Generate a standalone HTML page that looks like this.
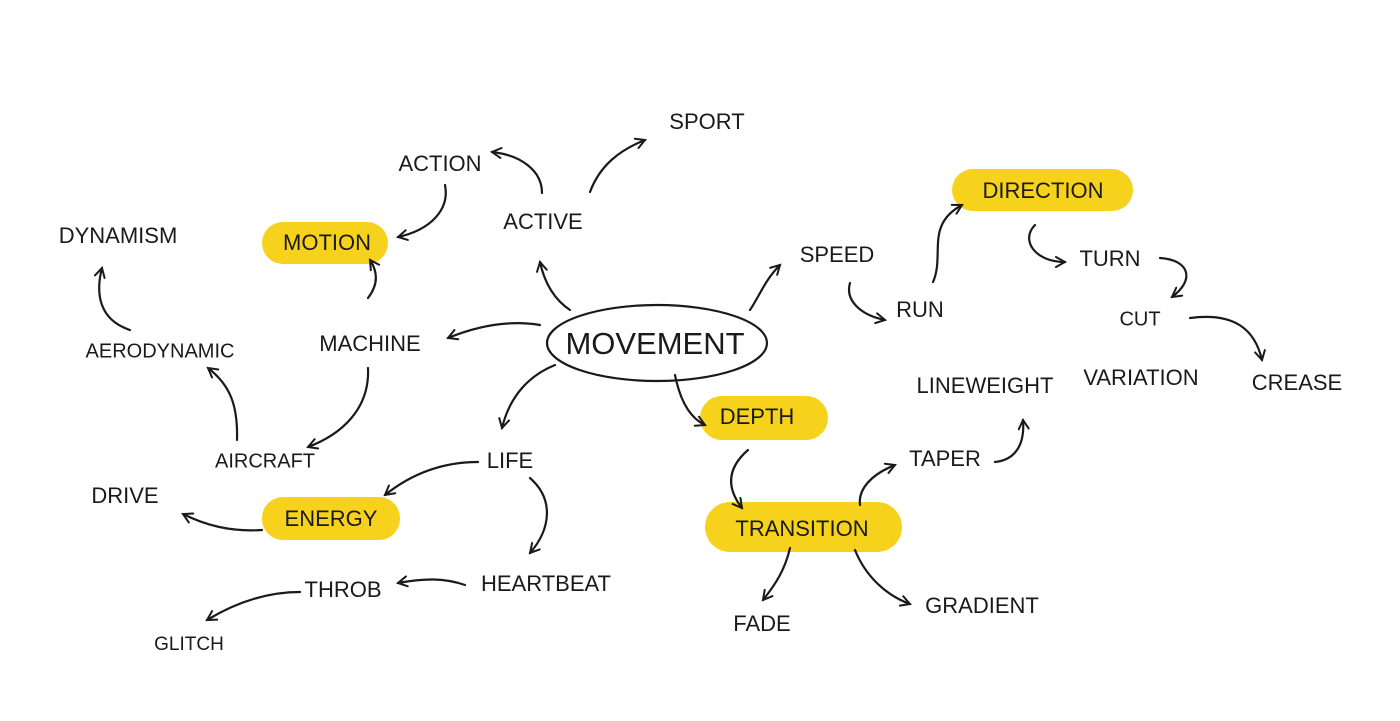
<!DOCTYPE html>
<html><head><meta charset="utf-8"><style>
html,body{margin:0;padding:0;background:#fff;}
svg{display:block}
text{font-family:"Liberation Sans Narrow","Liberation Sans",sans-serif;fill:#1a1a1a;font-size:22px;text-anchor:middle;dominant-baseline:middle;letter-spacing:0px}
.c{fill:none;stroke:#1a1a1a;stroke-width:2.2;stroke-linecap:round}
.h{fill:#f6d21c}
</style></head><body>
<svg width="1400" height="721" viewBox="0 0 1400 721" xmlns="http://www.w3.org/2000/svg">
<defs>
<marker id="a" viewBox="0 0 12 12" refX="10" refY="6" markerWidth="12" markerHeight="12" markerUnits="userSpaceOnUse" orient="auto">
<path d="M1,1 L10,6 L1,11" fill="none" stroke="#1a1a1a" stroke-width="2" stroke-linecap="round"/></marker>
</defs>
<rect class="h" x="262" y="222" width="126" height="42" rx="21"/>
<rect class="h" x="952" y="169" width="181" height="42" rx="21"/>
<rect class="h" x="700" y="396" width="128" height="44" rx="22"/>
<rect class="h" x="262" y="497" width="138" height="43" rx="21"/>
<rect class="h" x="705" y="502" width="197" height="50" rx="25"/>

<ellipse cx="657" cy="343" rx="110" ry="38" fill="none" stroke="#1a1a1a" stroke-width="2.2"/>
<text x="655" y="346" style="font-size:31px">MOVEMENT</text>

<text x="707" y="123">SPORT</text>
<text x="440" y="165">ACTION</text>
<text x="543" y="223">ACTIVE</text>
<text x="118" y="237">DYNAMISM</text>
<text x="327" y="244">MOTION</text>
<text x="1043" y="192">DIRECTION</text>
<text x="837" y="256">SPEED</text>
<text x="1110" y="260">TURN</text>
<text x="370" y="345">MACHINE</text>
<text x="160" y="352" style="font-size:20px">AERODYNAMIC</text>
<text x="920" y="311">RUN</text>
<text x="1140" y="320" style="font-size:20px">CUT</text>
<text x="985" y="387">LINEWEIGHT</text>
<text x="1141" y="379">VARIATION</text>
<text x="1297" y="384">CREASE</text>
<text x="757" y="418">DEPTH</text>
<text x="265" y="462" style="font-size:20px">AIRCRAFT</text>
<text x="510" y="462">LIFE</text>
<text x="945" y="460">TAPER</text>
<text x="125" y="497">DRIVE</text>
<text x="331" y="520">ENERGY</text>
<text x="802" y="530">TRANSITION</text>
<text x="343" y="591">THROB</text>
<text x="546" y="585">HEARTBEAT</text>
<text x="982" y="607">GRADIENT</text>
<text x="189" y="645" style="font-size:19px">GLITCH</text>
<text x="762" y="625">FADE</text>

<path class="c" marker-end="url(#a)" d="M590,192 C600,165 620,150 645,140"/>
<path class="c" marker-end="url(#a)" d="M542,193 C542,170 520,155 492,152"/>
<path class="c" marker-end="url(#a)" d="M445,185 C450,210 430,230 398,237"/>
<path class="c" marker-end="url(#a)" d="M570,310 C555,300 545,285 540,262"/>
<path class="c" marker-end="url(#a)" d="M750,310 C760,295 765,280 780,265"/>
<path class="c" marker-end="url(#a)" d="M540,325 C510,320 480,325 448,338"/>
<path class="c" marker-end="url(#a)" d="M555,365 C530,375 510,395 502,428"/>
<path class="c" marker-end="url(#a)" d="M675,375 C680,400 690,418 705,425"/>
<path class="c" marker-end="url(#a)" d="M368,298 C378,285 378,272 370,260"/>
<path class="c" marker-end="url(#a)" d="M130,330 C100,320 95,295 102,268"/>
<path class="c" marker-end="url(#a)" d="M368,368 C370,410 340,435 308,447"/>
<path class="c" marker-end="url(#a)" d="M237,440 C238,405 230,385 208,368"/>
<path class="c" marker-end="url(#a)" d="M478,462 C440,462 410,475 385,495"/>
<path class="c" marker-end="url(#a)" d="M530,478 C555,500 550,530 530,553"/>
<path class="c" marker-end="url(#a)" d="M262,530 C230,532 205,525 183,514"/>
<path class="c" marker-end="url(#a)" d="M465,585 C445,578 425,578 398,583"/>
<path class="c" marker-end="url(#a)" d="M300,592 C270,592 240,600 207,620"/>
<path class="c" marker-end="url(#a)" d="M748,450 C725,470 728,490 742,508"/>
<path class="c" marker-end="url(#a)" d="M860,505 C858,490 870,475 895,465"/>
<path class="c" marker-end="url(#a)" d="M995,462 C1015,460 1025,445 1023,420"/>
<path class="c" marker-end="url(#a)" d="M790,548 C785,570 775,585 763,600"/>
<path class="c" marker-end="url(#a)" d="M855,550 C865,575 885,595 910,604"/>
<path class="c" marker-end="url(#a)" d="M850,283 C845,300 860,315 885,320"/>
<path class="c" marker-end="url(#a)" d="M933,282 C945,255 925,225 962,205"/>
<path class="c" marker-end="url(#a)" d="M1035,225 C1020,240 1035,262 1065,262"/>
<path class="c" marker-end="url(#a)" d="M1160,258 C1190,260 1195,280 1172,297"/>
<path class="c" marker-end="url(#a)" d="M1190,318 C1235,312 1255,330 1262,360"/>
</svg>
</body></html>
